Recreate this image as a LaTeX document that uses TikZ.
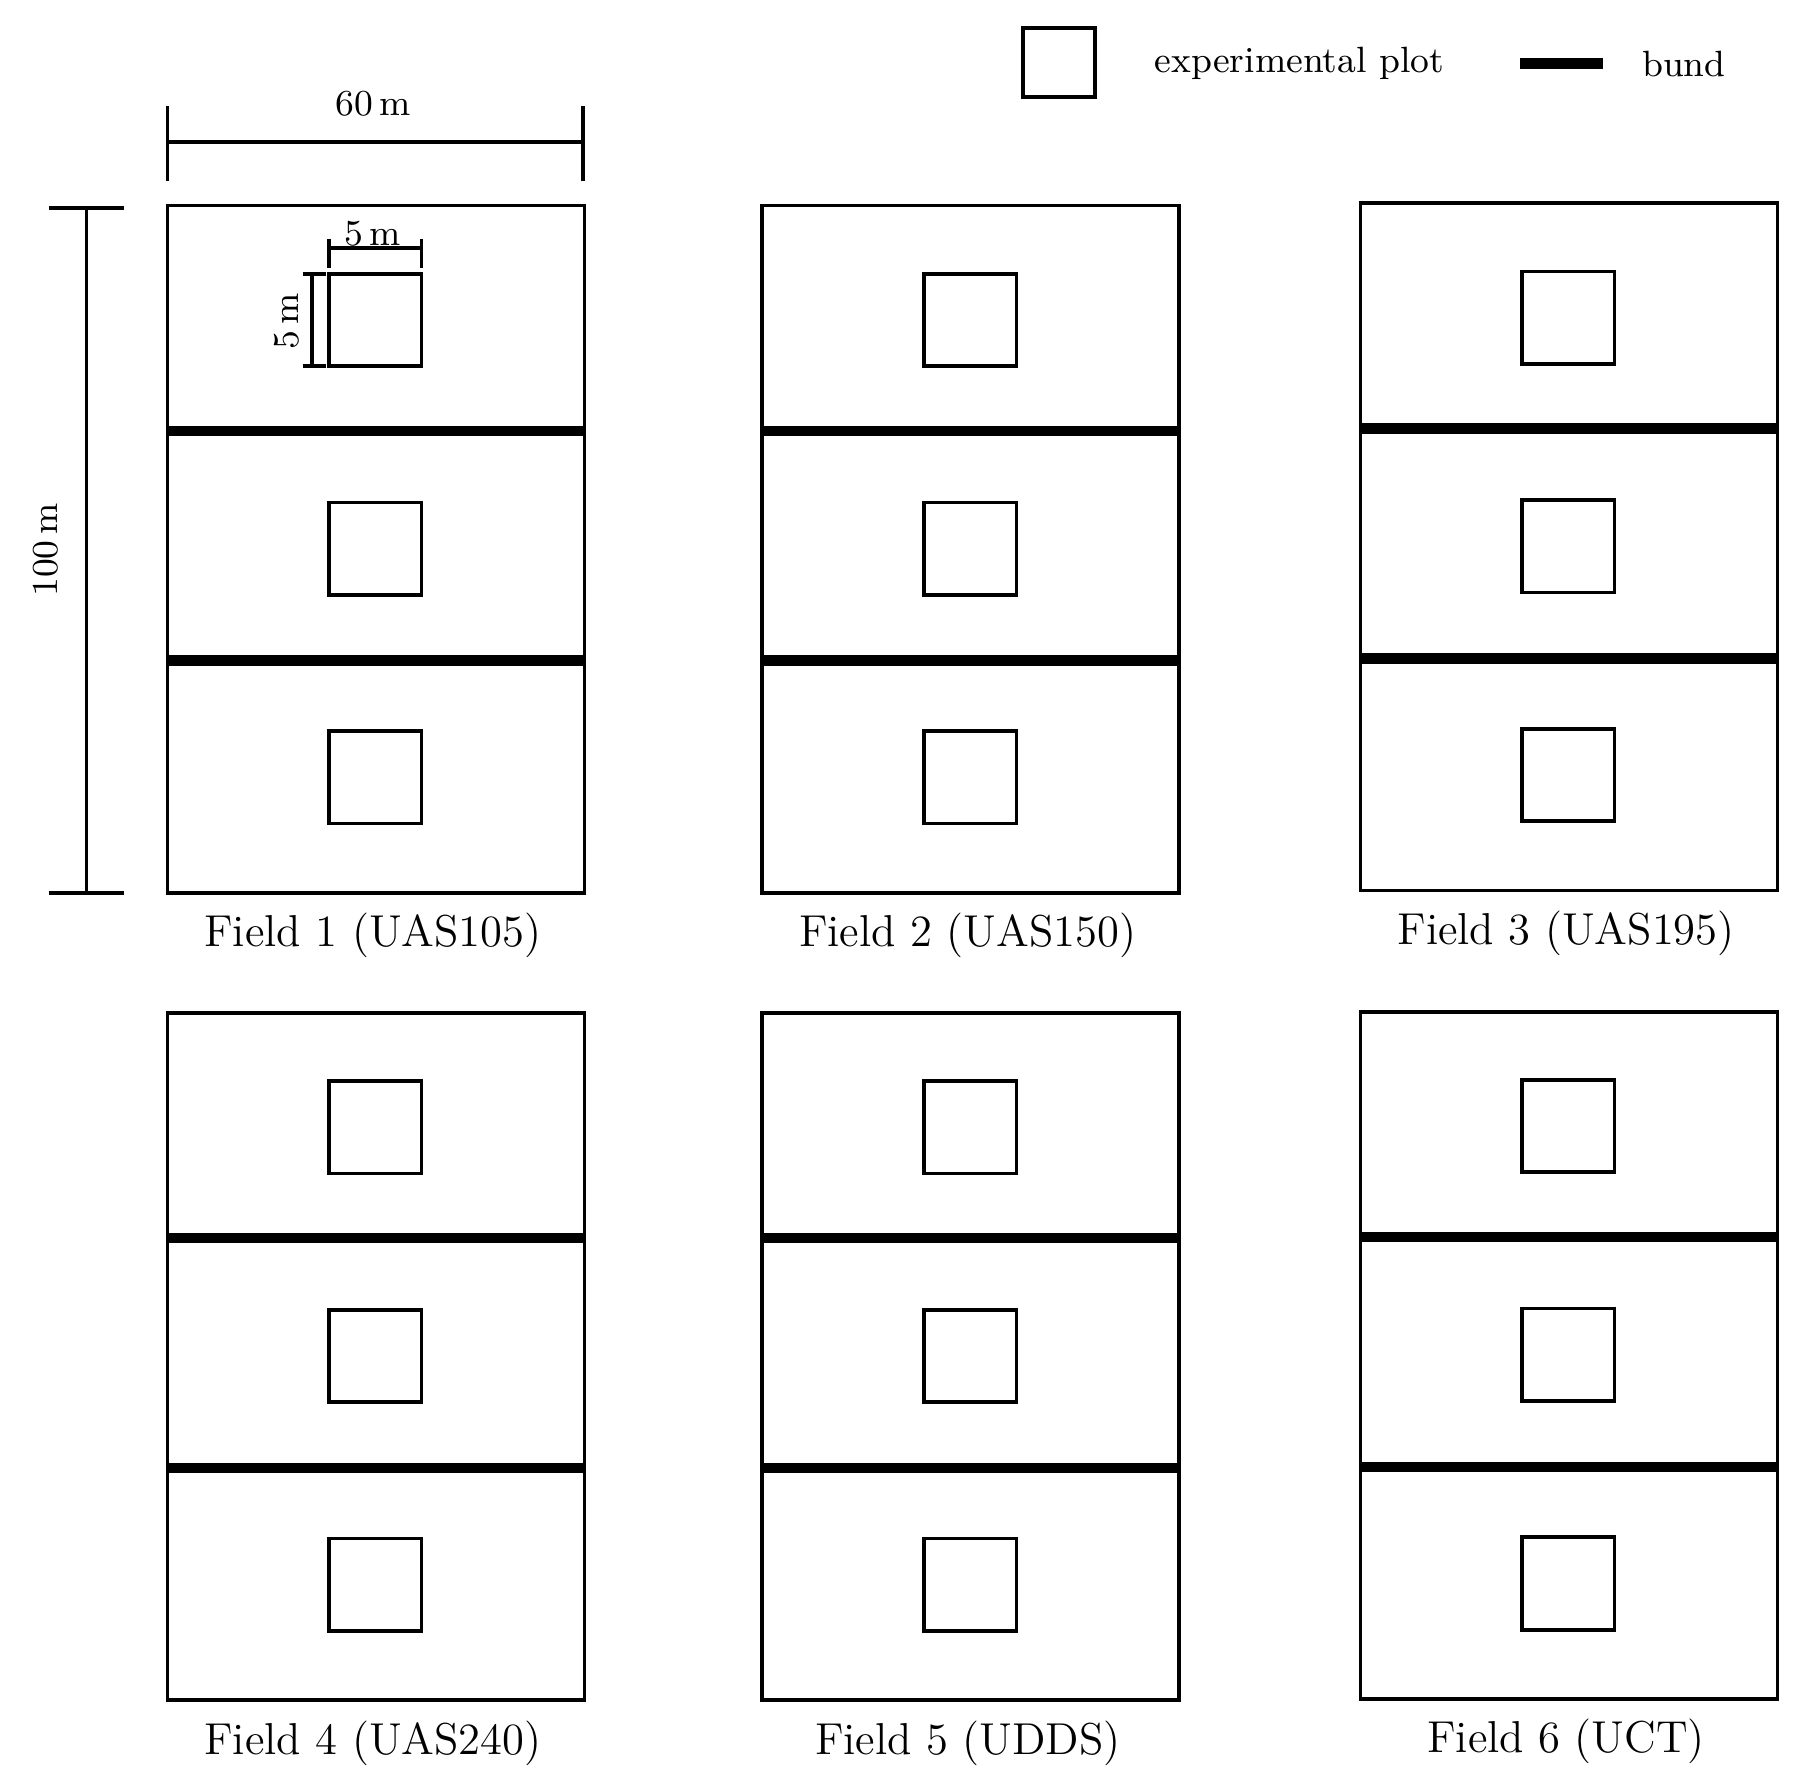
\documentclass[tikz,border=0pt]{standalone}
\begin{document}
\begin{tikzpicture}[x=0.01cm,y=-0.01cm,
  fieldbox/.style={draw,line width=0.9pt},
  plotbox/.style={draw,line width=0.9pt},
  bundline/.style={line width=2.6pt},
  dimline/.style={line width=0.9pt},
  lab/.style={font=\fontsize{11}{13}\selectfont},
  slab/.style={font=\fontsize{9}{11}\selectfont}]
\useasboundingbox (0,0) rectangle (1568,1548);
\foreach \x/\y/\n/\t in {145/178/1/Field 1 (UAS105),660/178/2/Field 2 (UAS150),1178/176/3/Field 3 (UAS195),145/877/4/Field 4 (UAS240),660/877/5/Field 5 (UDDS),1178/876/6/Field 6 (UCT)}{
  \draw[fieldbox] (\x,\y) rectangle ++(361,595);
  \draw[bundline] (\x,\y+195) -- ++(361,0);
  \draw[bundline] (\x,\y+394) -- ++(361,0);
  \foreach \dy in {59,257,455}{
    \draw[plotbox] (\x+140,\y+\dy) rectangle ++(80,80);
  }
  \node[lab] (f\n) at (\x+178,\y+632) {\t};
}
% 60 m
\coordinate (a1) at (145,123); \coordinate (a2) at (505,123);
\draw[dimline] (a1) -- (a2);
\draw[dimline] (145,92) -- (145,157);
\draw[dimline] (505,92) -- (505,157);
\node[slab] (d60) at (323,90) {60\,m};
% 100 m
\coordinate (b1) at (75,180); \coordinate (b2) at (75,773);
\draw[dimline] (b1) -- (b2);
\draw[dimline] (42,180) -- (107,180);
\draw[dimline] (42,773) -- (107,773);
\node[slab,rotate=90] (d100) at (40,476) {100\,m};
% 5 m
\draw[dimline] (285,215) -- (365,215);
\draw[dimline] (285,207) -- (285,232);
\draw[dimline] (365,207) -- (365,232);
\node[slab] (d5a) at (323,202) {5\,m};
\draw[dimline] (270,237) -- (270,317);
\draw[dimline] (262,237) -- (282,237);
\draw[dimline] (262,317) -- (282,317);
\node[slab,rotate=90] (d5b) at (248,278) {5\,m};
% legend
\draw[plotbox] (886,24) rectangle (948,84);
\node[slab] (lp) at (1125,55) {experimental plot};
\draw[bundline] (1316,55) -- (1388,55);
\node[slab] (lb) at (1458,55) {bund};
\end{tikzpicture}
\end{document}
